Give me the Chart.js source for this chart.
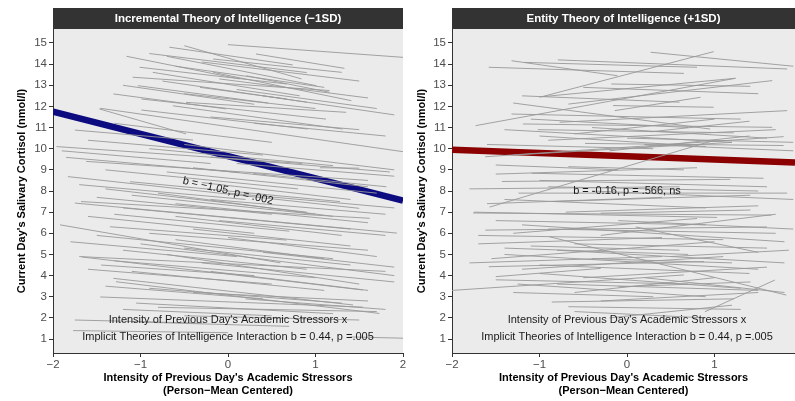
<!DOCTYPE html>
<html>
<head>
<meta charset="utf-8">
<script src="https://cdn.jsdelivr.net/npm/chart.js@4.4.1/dist/chart.umd.min.js"></script>
<style>
	body { margin: 0; background: #ffffff; }
	#wrap { position: relative; width: 795px; height: 401px; overflow: hidden; }
	canvas { position: absolute; top: 0; }
	#chart-left { left: 0; }
	#chart-right { left: 400px; }
</style>
</head>
<body>
<div id="wrap">
	<canvas id="chart-left" width="410" height="401"></canvas>
	<canvas id="chart-right" width="395" height="401"></canvas>
</div>
<script>
// panel titles
var panelTitles = ['Incremental Theory of Intelligence (\u22121SD)', 'Entity Theory of Intelligence (+1SD)'];

// tick labels
var yTicks = [1, 2, 3, 4, 5, 6, 7, 8, 9, 10, 11, 12, 13, 14, 15];
var xTicksLeft = [-2, -1, 0, 1, 2];
var xTicksRight = [-2, -1, 0, 1];

// simple slopes (start x, start y, end x, end y)
var fitLeft = [-2, 11.75, 2, 7.55];
var fitRight = [-2, 9.95, 1.92, 9.35];

// person level slopes, incremental (-1SD)
var personLeft = [
	[0.0, 14.92, 2.0, 14.32], [-0.5, 14.87, 0.84, 13.3], [-0.67, 14.8, 0.74, 13.96], [0.32, 14.48, 1.33, 13.8],
	[-0.17, 14.24, 1.3, 13.61], [-1.16, 14.37, 0.13, 13.3], [-0.7, 14.37, 1.01, 12.98], [-1.01, 13.85, 0.67, 13.06],
	[-0.86, 13.61, 0.82, 12.5], [-0.17, 13.61, 1.41, 12.27], [-1.09, 13.38, 1.16, 12.75], [-1.03, 12.98, 0.46, 12.16],
	[-0.32, 12.9, 0.67, 12.35], [-1.31, 12.59, -0.02, 11.88], [-0.99, 12.35, 1.12, 11.4], [-0.99, 11.83, 0.91, 10.93],
	[-1.47, 11.88, -0.48, 10.7], [-0.63, 12.03, 1.31, 10.93], [0.21, 13.45, 1.16, 12.67], [-0.48, 12.19, 1.35, 11.72],
	[-1.46, 11.91, 2.0, 9.86], [-1.75, 10.88, -0.4, 10.41], [-1.96, 10.1, 0.85, 9.3], [-1.85, 9.59, 0.13, 8.87],
	[-1.62, 9.4, 1.6, 8.5], [-1.83, 8.68, 1.5, 7.18], [-1.12, 8.44, 1.28, 7.5], [-1.68, 7.5, 1.62, 6.71],
	[-1.92, 6.4, 0.6, 4.6], [-1.35, 6.31, 0.67, 5.68], [0.29, 8.83, 1.81, 8.2], [-0.4, 9.1, 1.6, 8.2],
	[-0.2, 7.6, 1.8, 6.9], [-1.75, 7.43, 1.93, 6.01], [-0.5, 10.2, 1.9, 9.0], [1.05, 9.1, 1.5, 9.08],
	[0.1, 9.3, 1.9, 8.7], [-1.4, 8.1, 0.9, 7.0], [-0.8, 7.9, 1.2, 6.8], [-1.2, 7.2, 1.4, 6.2],
	[-0.6, 6.8, 1.3, 5.9], [-1.5, 5.9, 1.2, 4.8], [-1.7, 4.9, 1.8, 4.2], [-1.45, 4.5, 0.3, 4.0],
	[-1.0, 5.5, 1.9, 4.0], [-1.31, 3.87, 1.43, 2.61], [-1.28, 3.71, 1.73, 2.21], [-0.4, 3.2, 1.6, 2.8],
	[-1.67, 4.88, 1.54, 3.32], [-1.46, 2.99, 1.54, 2.51], [-1.05, 2.7, 1.2, 2.2], [-0.8, 2.5, 1.7, 2.3],
	[-1.75, 1.9, -0.3, 1.75], [-1.77, 1.4, 0.0, 1.3], [1.4, 1.1, 2.0, 1.04], [-0.7, 5.0, 1.5, 3.6],
	[-0.3, 4.6, 1.9, 3.7], [-1.1, 4.2, 1.1, 3.3], [-0.9, 6.0, 1.6, 5.2], [0.0, 5.8, 1.7, 4.9],
	[-0.9, 14.5, 0.9, 13.6], [-0.3, 14.1, 1.5, 13.2], [-0.6, 13.9, 1.1, 12.9], [-0.1, 13.3, 1.6, 12.4],
	[-0.75, 13.2, 0.9, 12.2], [0.1, 12.8, 1.7, 11.9], [-0.5, 12.6, 1.0, 11.9], [-1.2, 13.0, 0.3, 12.1],
	[0.4, 12.5, 1.9, 11.6], [-0.2, 11.5, 1.5, 10.9], [-1.3, 11.2, 0.5, 10.3], [0.3, 11.2, 1.8, 10.6],
	[-1.6, 10.4, 0.4, 9.7], [-0.9, 10.0, 1.2, 9.2], [-1.9, 9.9, -0.2, 9.3], [-0.2, 9.6, 1.85, 8.9],
	[-1.4, 9.0, 0.8, 8.1], [-0.7, 8.9, 1.7, 7.9], [-1.7, 8.3, 0.2, 7.6], [-0.3, 8.4, 1.4, 7.6],
	[-1.1, 7.8, 1.0, 6.9], [-1.5, 7.7, 0.5, 6.9], [0.0, 7.9, 1.9, 7.2], [-0.6, 7.4, 1.6, 6.5],
	[-1.3, 6.9, 0.7, 6.1], [-0.1, 6.6, 1.8, 5.9], [-1.6, 6.8, 0.3, 6.0], [-0.4, 6.2, 1.4, 5.4],
	[-1.8, 5.6, 0.1, 4.9], [-1.2, 5.2, 0.9, 4.3], [-0.5, 5.3, 1.4, 4.5], [-1.6, 4.3, 0.5, 3.6],
	[-0.2, 4.2, 1.6, 3.3], [-1.4, 3.5, 0.4, 2.9], [-0.9, 3.4, 1.3, 2.7], [-1.2, 2.4, 0.5, 2.1],
	[0.2, 2.9, 1.8, 2.4], [-0.5, 2.1, 1.5, 1.9], [-1.0, 1.8, 0.7, 1.6], [-1.3, 4.7, 1.0, 3.9],
	[-0.6, 5.7, 1.1, 4.8], [0.4, 5.1, 1.9, 4.4]
];

// person level slopes, entity (+1SD)
var personRight = [
	[0.27, 14.56, 1.9, 13.9], [-1.0, 12.43, 0.99, 14.59], [-1.32, 14.16, -0.11, 13.45], [-1.58, 13.85, 0.65, 13.56],
	[-0.79, 14.2, 1.83, 13.77], [-1.17, 14.08, 0.8, 13.85], [-0.18, 13.06, 1.41, 12.95], [-0.67, 12.11, 1.66, 13.22],
	[-0.97, 12.46, 1.24, 13.33], [-1.73, 11.09, 1.24, 13.33], [-1.3, 12.16, 0.95, 10.93], [-0.16, 12.04, 0.99, 11.96],
	[-0.14, 11.8, 0.84, 12.43], [-1.32, 11.64, 1.3, 11.4], [-1.19, 11.17, 1.66, 11.01], [-1.02, 10.9, 1.22, 10.75],
	[-0.77, 11.25, 1.83, 11.8], [0.27, 10.8, 1.4, 11.3], [0.2, 10.2, 1.9, 9.9], [-1.62, 9.62, 1.79, 10.57],
	[-1.57, 7.24, 1.0, 10.4], [-1.09, 8.84, 1.56, 8.6], [-1.43, 8.45, 1.18, 8.55], [-1.24, 7.9, 1.83, 7.9],
	[-1.75, 7.0, 1.03, 6.75], [-0.86, 7.5, 1.41, 7.8], [-0.67, 9.15, 0.65, 9.0], [-0.48, 10.25, 1.79, 10.15],
	[-1.5, 9.23, -0.1, 9.0], [-0.3, 6.95, 1.41, 7.1], [-1.62, 6.15, 1.6, 6.3], [-1.76, 6.96, 1.65, 6.86],
	[-2.0, 3.3, 0.65, 4.03], [0.89, 2.29, 1.69, 3.79], [-0.89, 5.84, 1.82, 3.08], [-1.58, 4.42, 0.88, 4.66],
	[-1.5, 3.95, -0.3, 4.34], [-0.86, 2.75, 1.22, 2.9], [-0.67, 2.53, 1.3, 2.4], [-0.1, 3.47, 1.41, 3.7],
	[-1.4, 5.0, 1.5, 4.3], [-1.1, 5.4, 0.6, 5.2], [-1.55, 4.8, 1.0, 5.6], [-0.5, 3.9, 1.6, 4.4],
	[-1.2, 6.4, 1.8, 5.6], [-0.3, 5.9, 1.7, 6.9], [-1.0, 4.1, 1.3, 3.4], [-0.6, 3.2, 1.0, 3.9],
	[-1.7, 5.5, 0.4, 5.8], [0.1, 6.3, 1.5, 5.1], [-0.2, 2.0, 1.2, 2.6], [-1.4, 7.6, 0.9, 7.2],
	[-0.9, 8.2, 1.5, 8.0], [-1.3, 9.7, 1.2, 10.3], [-0.4, 11.0, 1.6, 10.5], [-1.0, 10.6, 0.9, 10.1],
	[-0.8, 5.2, 1.8, 4.6], [0.5, 4.9, 1.85, 5.2], [-1.25, 3.6, 0.9, 3.0],
	[-1.4, 10.9, 1.2, 10.3], [-0.9, 10.4, 1.7, 10.9], [-0.6, 10.7, 1.0, 11.4], [-1.1, 11.4, 0.7, 11.0],
	[0.0, 10.5, 1.9, 10.3], [-1.6, 10.2, 0.3, 10.0], [-0.2, 9.9, 1.4, 10.6], [-1.2, 12.5, 0.6, 12.2],
	[-0.5, 12.9, 1.5, 12.6], [-1.5, 8.8, 0.8, 9.1], [-1.0, 8.5, 1.6, 8.2], [-1.8, 8.1, 0.6, 8.2],
	[-0.4, 8.0, 1.9, 7.6], [-1.6, 7.4, 0.4, 7.7], [-0.7, 7.0, 1.5, 7.3], [-1.5, 6.6, 0.9, 6.4],
	[-0.9, 6.2, 1.7, 6.0], [-1.3, 6.0, 0.8, 6.7], [-0.1, 6.6, 1.9, 6.2], [-1.7, 5.9, 1.1, 5.7],
	[-1.4, 5.3, 0.7, 5.0], [-0.6, 5.5, 1.6, 5.3], [-1.8, 4.6, 0.4, 4.9], [-1.0, 4.5, 1.4, 4.1],
	[-0.4, 4.8, 1.2, 4.6], [-1.5, 3.8, 0.7, 3.6], [-0.8, 3.6, 1.5, 3.3], [-1.2, 4.3, 1.1, 4.9],
	[0.2, 3.9, 1.8, 3.2], [-0.6, 2.3, 0.9, 2.0], [-0.3, 2.8, 1.5, 3.2], [-1.3, 3.2, 0.3, 3.0]
];

// annotations
var slopeTextLeft = 'b = \u22121.05, p = .002';
var slopeTextRight = 'b = -0.16, p = .566, ns';
var interactionText = ["Intensity of Previous Day's Academic Stressors x", 'Implicit Theories of Intelligence Interaction b = 0.44, p =.005'];
var xTitle = ["Intensity of Previous Day's Academic Stressors", '(Person\u2212Mean Centered)'];
var yTitle = "Current Day's Salivary Cortisol (nmol/l)";

var fontFamily = "'Liberation Sans', Arial, sans-serif";

function segmentSets(segs, color, width) {
	return segs.map(function(s) {
		return {
			data: [{x: s[0], y: s[1]}, {x: s[2], y: s[3]}],
			borderColor: color,
			borderWidth: width,
			showLine: true,
			pointRadius: 0
		};
	});
}

// grey panel + dark strip + texts
var panelPlugin = {
	id: 'panel',
	beforeDraw: function(chart, args, opts) {
		var ctx = chart.ctx, a = chart.chartArea;
		ctx.save();
		ctx.fillStyle = '#ebebeb';
		ctx.fillRect(a.left, a.top, a.right - a.left, a.bottom - a.top);
		ctx.fillStyle = '#333333';
		ctx.fillRect(a.left, a.top - 21, a.right - a.left, 21);
		ctx.fillStyle = '#ffffff';
		ctx.font = 'bold 11.5px ' + fontFamily;
		ctx.textAlign = 'center';
		ctx.textBaseline = 'middle';
		ctx.fillText(opts.title, (a.left + a.right) / 2, a.top - 10.5);
		ctx.restore();
	},
	afterDatasetsDraw: function(chart, args, opts) {
		var ctx = chart.ctx;
		var xs = chart.scales.x, ys = chart.scales.y;
		ctx.save();
		ctx.fillStyle = '#1a1a1a';
		ctx.font = '11px ' + fontFamily;
		ctx.textAlign = 'center';
		ctx.textBaseline = 'middle';
		ctx.translate(xs.getPixelForValue(0), ys.getPixelForValue(opts.slopeY));
		ctx.rotate(opts.slopeAngle * Math.PI / 180);
		ctx.fillText(opts.slopeText, 0, 0);
		ctx.restore();

		ctx.save();
		ctx.fillStyle = '#1a1a1a';
		ctx.font = '11px ' + fontFamily;
		ctx.textAlign = 'center';
		ctx.textBaseline = 'middle';
		ctx.fillText(interactionText[0], xs.getPixelForValue(0), ys.getPixelForValue(1.88));
		ctx.fillText(interactionText[1], xs.getPixelForValue(0), ys.getPixelForValue(1.12));
		ctx.restore();
	}
};

function makeConfig(persons, fit, fitColor, xMax, xTicks, yWidth, padRight, panel) {
	var sets = segmentSets(persons, '#999999', 0.9);
	sets = sets.concat(segmentSets([fit], fitColor, 6.5));
	return {
		type: 'scatter',
		data: { datasets: sets },
		plugins: [panelPlugin],
		options: {
			responsive: false,
			animation: false,
			events: [],
			layout: { padding: { top: 29, right: padRight, bottom: 0, left: 0 } },
			plugins: {
				legend: { display: false },
				tooltip: { enabled: false },
				panel: panel
			},
			scales: {
				x: {
					type: 'linear',
					min: -2,
					max: xMax,
					afterBuildTicks: function(scale) {
						scale.ticks = xTicks.map(function(v) { return {value: v}; });
					},
					afterFit: function(scale) { scale.height = 48; },
					grid: { drawOnChartArea: false, drawTicks: true, tickLength: 4, color: '#333333' },
					border: { display: true, color: '#333333', width: 1 },
					ticks: {
						color: '#4d4d4d',
						padding: 1,
						font: { family: fontFamily, size: 11.5 },
						callback: function(v) { return v < 0 ? '\u2212' + Math.abs(v) : String(v); }
					},
					title: {
						display: true,
						text: xTitle,
						color: '#000000',
						font: { family: fontFamily, size: 11, weight: 'bold', lineHeight: 13 / 11 },
						padding: { top: 0, bottom: 3.5 }
					}
				},
				y: {
					type: 'linear',
					min: 0.34,
					max: 15.66,
					afterBuildTicks: function(scale) {
						scale.ticks = yTicks.map(function(v) { return {value: v}; });
					},
					afterFit: function(scale) { scale.width = yWidth; },
					grid: { drawOnChartArea: false, drawTicks: true, tickLength: 4, color: '#333333' },
					border: { display: true, color: '#333333', width: 1 },
					ticks: {
						color: '#4d4d4d',
						padding: 2,
						font: { family: fontFamily, size: 11.5 }
					},
					title: {
						display: true,
						text: yTitle,
						color: '#000000',
						font: { family: fontFamily, size: 11, weight: 'bold' },
						padding: { top: 15, bottom: 0 }
					}
				}
			}
		}
	};
}

var chartLeft = new Chart(document.getElementById('chart-left').getContext('2d'),
	makeConfig(personLeft, fitLeft, '#0c0c80', 2, xTicksLeft, 53, 7,
		{ title: panelTitles[0], slopeText: slopeTextLeft, slopeY: 8.0, slopeAngle: 13 }));

var chartRight = new Chart(document.getElementById('chart-right').getContext('2d'),
	makeConfig(personRight, fitRight, '#8b0000', 1.92, xTicksRight, 52, 0,
		{ title: panelTitles[1], slopeText: slopeTextRight, slopeY: 8.0, slopeAngle: 0 }));
</script>
</body>
</html>
